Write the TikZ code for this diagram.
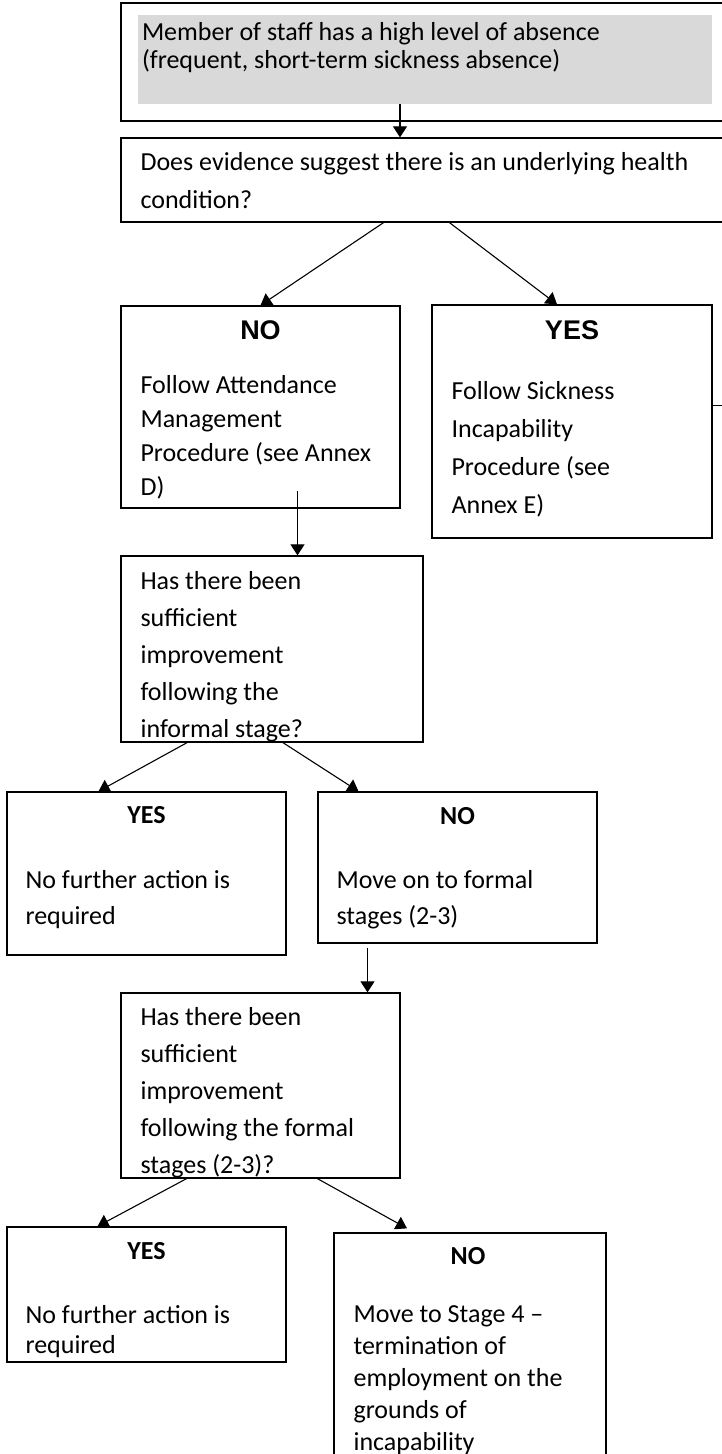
\documentclass[tikz,border=0pt]{standalone}
\usepackage{fontspec}
\setmainfont{Carlito}
\newfontfamily\arialfont{Liberation Sans}
\usepackage{tikz}
\usetikzlibrary{arrows.meta,positioning,fit}

\begin{document}
\begin{tikzpicture}[x=1pt, y=1pt,
    box/.style={draw, line width=1.3pt, inner sep=0pt},
    body/.style={font=\fontsize{26}{#1}\selectfont, align=left, anchor=base west, inner sep=0pt},
    body/.default=37,
    headA/.style={font=\arialfont\bfseries\fontsize{27}{30}\selectfont, anchor=base, inner sep=0pt},
    headB/.style={font=\bfseries\fontsize{26}{30}\selectfont, anchor=base, inner sep=0pt},
    link/.style={line width=1.1pt, -{Triangle[width=14pt,length=11pt]}}]
      \useasboundingbox (0,0) rectangle (722,-1454);
      % boxes
      \node[box, fit={(121,-3) (740,-121)}] (start) {};
      \node[fill=black!15, inner sep=0pt, fit={(138,-15) (712,-104)}] (startFill) {};
      \node[box, fit={(121,-138) (740,-222)}] (evidence) {};
      \node[box, fit={(121,-306) (400,-508)}] (noHealth) {};
      \node[box, fit={(432,-305) (712,-538)}] (yesHealth) {};
      \node[box, fit={(121,-556) (423,-742)}] (informal) {};
      \node[box, fit={(7,-792) (286,-955)}] (yesInformal) {};
      \node[box, fit={(318,-792) (597,-943)}] (noInformal) {};
      \node[box, fit={(121,-993) (400,-1178)}] (formal) {};
      \node[box, fit={(7,-1227) (286,-1362)}] (yesFormal) {};
      \node[box, fit={(334,-1233) (606,-1470)}] (noFormal) {};
      \coordinate (offRight) at (730,-405);

      % texts (anchored on the last line)
      \node[body=28] (startTxt) at ([shift={(4,-54)}]startFill.north west)
        {Member of staff has a high level of absence\\(frequent, short-term sickness absence)};
      \node[body=38] (evidenceTxt) at ([shift={(20,-71)}]evidence.north west)
        {Does evidence suggest there is an underlying health\\condition?};
      \node[headA] (noHealthHd) at ([yshift=-34]noHealth.north) {NO};
      \node[body=34] (noHealthTxt) at ([shift={(20,-190)}]noHealth.north west)
        {Follow Attendance\\Management\\Procedure (see Annex\\D)};
      \node[headA] (yesHealthHd) at ([yshift=-35]yesHealth.north) {YES};
      \node[body=38] (yesHealthTxt) at ([shift={(20,-209)}]yesHealth.north west)
        {Follow Sickness\\Incapability\\Procedure (see\\Annex E)};
      \node[body] (informalTxt) at ([shift={(20,-182)}]informal.north west)
        {Has there been\\sufficient\\improvement\\following the\\informal stage?};
      \node[headB] (yesInformalHd) at ([yshift=-32]yesInformal.north) {YES};
      \node[body=36] (yesInformalTxt) at ([shift={(19,-133)}]yesInformal.north west)
        {No further action is\\required};
      \node[headB] (noInformalHd) at ([yshift=-33]noInformal.north) {NO};
      \node[body=36] (noInformalTxt) at ([shift={(19,-133)}]noInformal.north west)
        {Move on to formal\\stages (2-3)};
      \node[body] (formalTxt) at ([shift={(20,-181)}]formal.north west)
        {Has there been\\sufficient\\improvement\\following the formal\\stages (2-3)?};
      \node[headB] (yesFormalHd) at ([yshift=-33]yesFormal.north) {YES};
      \node[body=30] (yesFormalTxt) at ([shift={(19,-127)}]yesFormal.north west)
        {No further action is\\required};
      \node[headB] (noFormalHd) at ([shift={(-2,-32)}]noFormal.north) {NO};
      \node[body=32] (noFormalTxt) at ([shift={(20,-218)}]noFormal.north west)
        {Move to Stage 4 --\\termination of\\employment on the\\grounds of\\incapability};

      % arrows
      \draw[link] ([xshift=-25]startFill.south) -- ([xshift=-25]startFill.south |- evidence.north);
      \draw[link] ([xshift=-47]evidence.south) -- (noHealth.north);
      \draw[link] ([xshift=19]evidence.south) -- ([xshift=-15]yesHealth.north);
      \draw[link] ([shift={(37,18)}]noHealth.south) -- ([xshift=37]noHealth.south |- informal.north);
      \draw[link] ([xshift=-85]informal.south) -- ([xshift=-48]yesInformal.north);
      \draw[link] ([xshift=11]informal.south) -- ([xshift=-99]noInformal.north);
      \draw[link] ([shift={(-90,-4)}]noInformal.south) -- ([xshift=-90]noInformal.south |- formal.north);
      \draw[link] ([xshift=-74]formal.south) -- ([xshift=-49]yesFormal.north);
      \draw[link] ([xshift=57]formal.south) -- ([shift={(-63,4)}]noFormal.north);
      \draw[line width=1pt] (yesHealth.east |- offRight) -- (offRight);
\end{tikzpicture}
\end{document}
